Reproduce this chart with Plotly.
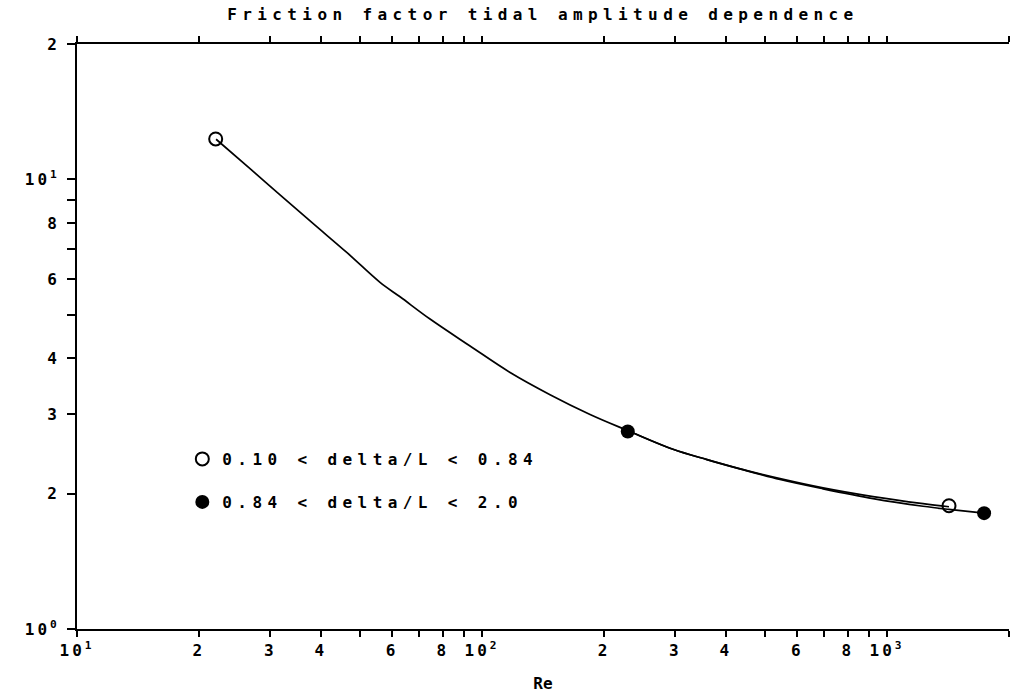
import plotly.graph_objects as go

# ---- data ----
open_re = [22.0, 1422]
open_f = [12.3, 1.88]
filled_re = [229, 1736]
filled_f = [2.75, 1.81]

# fitted curve through the open-circle set
curve_a_re = [22.05, 26.74, 31.71, 38.24, 46.42, 55.99, 62.74, 74.40, 93.41, 117.3, 147.2,
              184.8, 229.4, 296.1, 359.4, 433.5, 544.2, 695.0, 923.7, 1227, 1422]
curve_a_f = [12.28, 10.56, 9.24, 7.98, 6.87, 5.90, 5.48, 4.89, 4.26, 3.72, 3.32,
             3.00, 2.76, 2.51, 2.38, 2.27, 2.16, 2.06, 1.97, 1.90, 1.87]
# fitted curve through the filled-circle set
curve_b_re = [229.4, 296.1, 359.4, 433.5, 544.2, 695.0, 923.7, 1227, 1422, 1736]
curve_b_f = [2.76, 2.51, 2.38, 2.27, 2.15, 2.05, 1.95, 1.875, 1.845, 1.81]

x_tickvals = [10, 20, 30, 40, 60, 80, 100, 200, 300, 400, 600, 800, 1000, 2000]
x_ticktext = ["10<sup>1</sup>", "2", "3", "4", "6", "8", "10<sup>2</sup>",
              "2", "3", "4", "6", "8", "10<sup>3</sup>", "2"]
x_minor = [50, 70, 90, 500, 700, 900]
y_tickvals = [1, 2, 3, 4, 6, 8, 10, 20]
y_ticktext = ["10<sup>0</sup>", "2", "3", "4", "6", "8", "10<sup>1</sup>", "2"]
y_minor = [5, 7, 9]

title_text = "Friction factor tidal amplitude dependence"
label_open = "0.10 < delta/L < 0.84"
label_filled = "0.84 < delta/L < 2.0"
x_title = "Re"

FONT = "DejaVu Sans Mono"


def spaced(s, px):
    return '<span style="letter-spacing:%spx">%s</span>' % (px, s)


fig = go.Figure()
for cx, cy in ((curve_a_re, curve_a_f), (curve_b_re, curve_b_f)):
    fig.add_trace(go.Scatter(x=cx, y=cy, mode="lines",
                             line=dict(color="black", width=1.7, shape="spline", smoothing=1.0),
                             showlegend=False, hoverinfo="skip"))
fig.add_trace(go.Scatter(x=open_re, y=open_f, mode="markers", name=spaced(label_open, 5.4),
                         marker=dict(symbol="circle-open", size=13, color="black", line=dict(width=2)),
                         legend="legend"))
fig.add_trace(go.Scatter(x=filled_re, y=filled_f, mode="markers", name=spaced(label_filled, 5.4),
                         marker=dict(symbol="circle", size=14, color="black"),
                         legend="legend2"))

axis_font = dict(family=FONT, size=16, color="black", weight="bold")
leg_font = dict(family=FONT, size=16, color="black", weight="bold")

x_ticktext_s = [spaced(t, 3) for t in x_ticktext]
y_ticktext_s = [spaced(t, 3) for t in y_ticktext]

fig.update_layout(
    width=1011, height=693,
    margin=dict(l=77, r=2, t=44, b=64),
    paper_bgcolor="white", plot_bgcolor="white",
    font=dict(family=FONT, color="black"),
    title=dict(text=spaced(title_text, 5.4), x=0.537, xanchor="center", y=0.988, yanchor="top",
               font=dict(family=FONT, size=16, color="black", weight="bold")),
    xaxis=dict(type="log", range=[1, 3.30103], tickvals=x_tickvals, ticktext=x_ticktext_s,
               ticks="outside", ticklen=6, tickwidth=2, tickcolor="black",
               minor=dict(tickvals=x_minor, ticks="outside", ticklen=6, tickwidth=2, tickcolor="black"),
               showline=True, linewidth=2, linecolor="black", mirror="ticks",
               showgrid=False, zeroline=False, tickfont=axis_font,
               title=dict(text=x_title, font=dict(family=FONT, size=16, color="black", weight="bold"), standoff=20)),
    yaxis=dict(type="log", range=[0, 1.30103], tickvals=y_tickvals, ticktext=y_ticktext_s,
               ticks="outside", ticklen=8, tickwidth=2, tickcolor="black",
               minor=dict(tickvals=y_minor, ticks="outside", ticklen=8, tickwidth=2, tickcolor="black"),
               showline=True, linewidth=2, linecolor="black", mirror=False, ticklabelstandoff=4,
               showgrid=False, zeroline=False, tickfont=axis_font),
    legend=dict(x=0.113, y=(629 - 459) / 585, xanchor="left", yanchor="middle",
                bgcolor="rgba(0,0,0,0)", font=leg_font),
    legend2=dict(x=0.113, y=(629 - 502) / 585, xanchor="left", yanchor="middle",
                 bgcolor="rgba(0,0,0,0)", font=leg_font),
)

fig.write_html("out.html")
